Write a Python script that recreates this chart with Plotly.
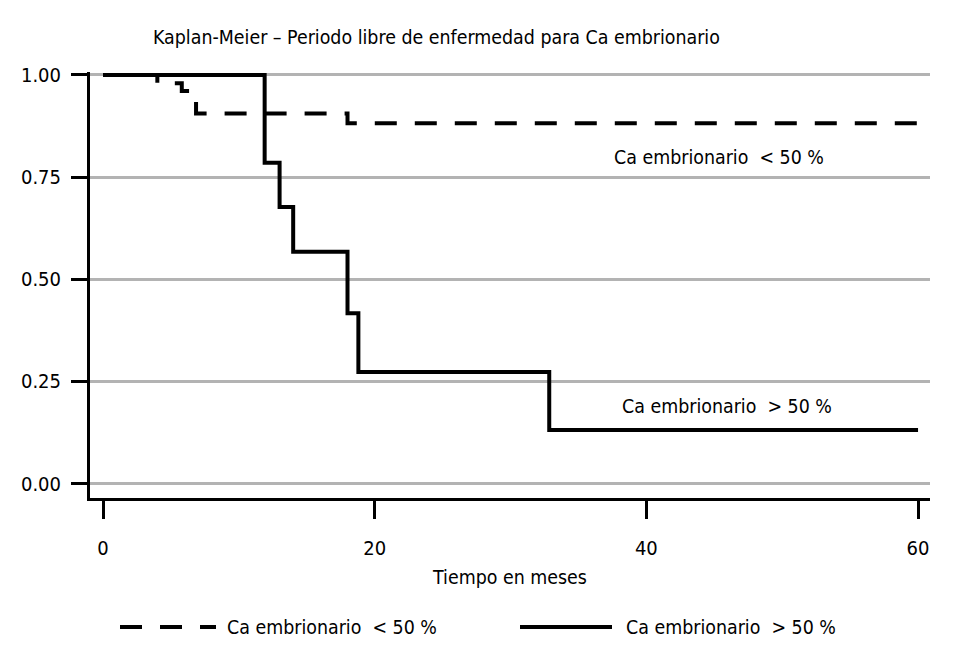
import plotly.graph_objects as go

# ---- data ----
time_low = [0, 4, 5.8, 6.85, 18, 60]
surv_low = [1.0, 0.98, 0.961, 0.906, 0.882, 0.882]
time_high = [0, 11.9, 13.0, 14.0, 18.0, 18.8, 32.85, 60]
surv_high = [1.0, 0.785, 0.677, 0.567, 0.417, 0.273, 0.131, 0.131]
label_low = "Ca embrionario\u00a0\u00a0< 50 %"
label_high = "Ca embrionario\u00a0\u00a0> 50 %"
title_text = "Kaplan-Meier \u2013 Periodo libre de enfermedad para Ca embrionario"
x_title = "Tiempo en meses"
x_ticks = [0, 20, 40, 60]
y_ticks = [0.0, 0.25, 0.5, 0.75, 1.0]
y_tick_text = ["0.00", "0.25", "0.50", "0.75", "1.00"]

FONT = "DejaVu Sans Condensed, Liberation Sans Narrow, sans-serif"
OFF = 8  # page body margin
W, H = 953 - OFF, 660 - OFF
ML, MR, MT, MB = 90 - OFF, 23, 72 - OFF, 162
PW, PH = W - ML - MR, H - MT - MB
TXT = 19.4

fig = go.Figure()
fig.add_trace(go.Scatter(x=time_low, y=surv_low, mode="lines", line_shape="hv",
                         line=dict(color="black", width=4, dash="22px,18px"),
                         name=label_low, showlegend=False))
fig.add_trace(go.Scatter(x=time_high, y=surv_high, mode="lines", line_shape="hv",
                         line=dict(color="black", width=4),
                         name=label_high, showlegend=False))

def px_to_paper_x(px):  # px in page (reference) coordinates
    return (px - OFF - ML) / PW

def px_to_paper_y(py):
    return (H - MB - (py - OFF)) / PH

# in-plot labels
fig.add_annotation(x=px_to_paper_x(612), y=px_to_paper_y(157), xref="paper", yref="paper",
                   text=label_low, showarrow=False, xanchor="left", yanchor="middle",
                   font=dict(size=TXT, family=FONT, color="black"))
fig.add_annotation(x=px_to_paper_x(620), y=px_to_paper_y(406), xref="paper", yref="paper",
                   text=label_high, showarrow=False, xanchor="left", yanchor="middle",
                   font=dict(size=TXT, family=FONT, color="black"))

# manual legend at the bottom
ly = px_to_paper_y(627)
fig.add_shape(type="line", xref="paper", yref="paper", x0=px_to_paper_x(120), x1=px_to_paper_x(216),
              y0=ly, y1=ly, line=dict(color="black", width=4, dash="22px,18px"))
fig.add_annotation(x=px_to_paper_x(225), y=ly, xref="paper", yref="paper", text=label_low,
                   showarrow=False, xanchor="left", yanchor="middle",
                   font=dict(size=TXT, family=FONT, color="black"))
fig.add_shape(type="line", xref="paper", yref="paper", x0=px_to_paper_x(520), x1=px_to_paper_x(612),
              y0=ly, y1=ly, line=dict(color="black", width=4))
fig.add_annotation(x=px_to_paper_x(624), y=ly, xref="paper", yref="paper", text=label_high,
                   showarrow=False, xanchor="left", yanchor="middle",
                   font=dict(size=TXT, family=FONT, color="black"))

fig.update_layout(
    width=W, height=H,
    margin=dict(l=ML, r=MR, t=MT, b=MB),
    paper_bgcolor="white", plot_bgcolor="white",
    font=dict(family=FONT, size=20, color="black"),
    title=dict(text=title_text,
               x=px_to_paper_x(153), xref="paper", xanchor="left",
               y=1 - (37 - OFF) / H, yref="container", yanchor="middle",
               font=dict(size=TXT, family=FONT, color="black")),
    showlegend=False,
)
fig.update_xaxes(range=[-0.957, 60.88], tickvals=x_ticks, showgrid=False, zeroline=False,
                 showline=True, linecolor="black", linewidth=3,
                 ticks="outside", ticklen=18, tickwidth=3, tickcolor="black",
                 ticklabelstandoff=12, tickfont=dict(size=20),
                 title=dict(text=x_title, standoff=12, font=dict(size=TXT)))
fig.update_yaxes(range=[-0.0355, 1.0073], tickvals=y_ticks, ticktext=y_tick_text,
                 showgrid=True, gridcolor="#b3b3b3", gridwidth=2.5, zeroline=False,
                 showline=True, linecolor="black", linewidth=3,
                 ticks="outside", ticklen=16, tickwidth=3, tickcolor="black",
                 ticklabelstandoff=6, tickfont=dict(size=20))

fig.write_html("out.html")
